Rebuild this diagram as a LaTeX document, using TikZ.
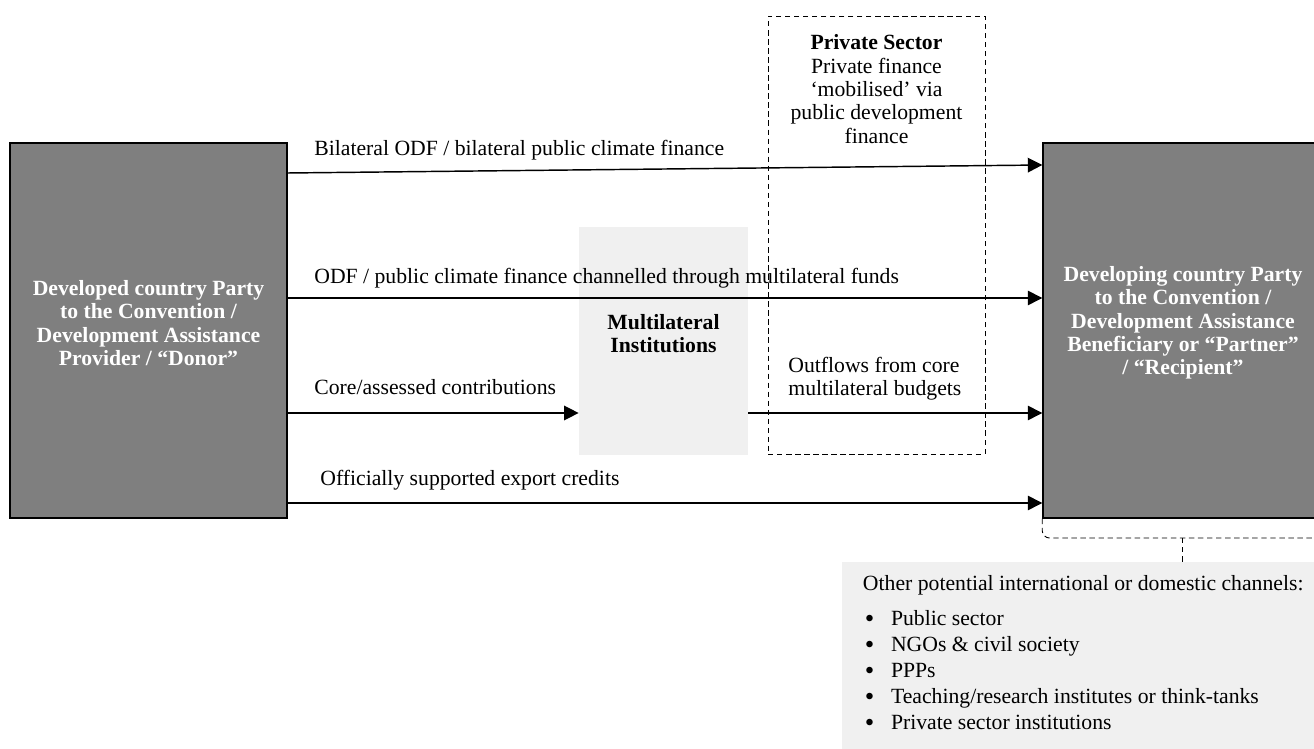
\documentclass[tikz,border=0pt]{standalone}
\usepackage{fontspec}
\setmainfont{Liberation Serif}
\usetikzlibrary{arrows.meta,fit}
\definecolor{boxgrey}{HTML}{7F7F7F}
\definecolor{panelgrey}{HTML}{F0F0F0}
\newcommand{\chanitem}{\hspace{1pt}\makebox[14.5pt][l]{\raisebox{-1.3pt}[0pt][0pt]{\fontsize{15}{14.4}\selectfont\textbullet}}}

\begin{document}
\begin{tikzpicture}[x=0.553pt, y=-0.553pt, >={Triangle[length=8pt,width=8pt]},
                    every node/.style={font=\fontsize{12}{12.9}\selectfont},
                    partybox/.style={draw=black, line width=0.8pt, fill=boxgrey, inner sep=0pt,
                                     text=white, align=center,
                                     font=\fontsize{12}{12.9}\selectfont\bfseries},
                    panel/.style={fill=panelgrey, inner sep=0pt},
                    flow/.style={line width=0.8pt, ->},
                    flowlabel/.style={anchor=base west, inner sep=0pt},
                    sectorline/.style={line width=0.5pt, dash pattern=on 3pt off 2pt}]

  %% 畫面範圍
  \useasboundingbox (0,0) rectangle (1314,749);
  \clip (0,0) rectangle (1314,749);

  %% 多邊機構 (淺灰底)
  \node[panel, fit={(579,227) (748,455)}, align=center,
        font=\fontsize{12}{12.9}\selectfont\bfseries] (multi) {Multilateral\\ Institutions};

  %% 捐助國與受援國
  \node[partybox, fit={(10,143) (287,518)}] (donor)
    {Developed country Party\\ to the Convention /\\ Development Assistance\\ Provider / “Donor”};
  \node[partybox, fit={(1043,143) (1323,518)}] (recipient)
    {Developing country Party\\ to the Convention /\\ Development Assistance\\ Beneficiary or “Partner”\\ / “Recipient”};

  %% 各資金流的高度
  \coordinate (lvlbil)    at (0,173);
  \coordinate (lvlbilend) at (0,165);
  \coordinate (lvlodf)    at (0,298);
  \coordinate (lvlcore)   at (0,413);
  \coordinate (lvlexp)    at (0,503);

  %% 資金流
  \draw[flow] (donor.east |- lvlbil)  -- (recipient.west |- lvlbilend);
  \draw[flow] (donor.east |- lvlodf)  -- (recipient.west |- lvlodf);
  \draw[flow] (donor.east |- lvlcore) -- (multi.west |- lvlcore);
  \draw[flow] (multi.east |- lvlcore) -- (recipient.west |- lvlcore);
  \draw[flow] (donor.east |- lvlexp)  -- (recipient.west |- lvlexp);

  %% 資金流標示
  \node[flowlabel] (billabel)  at (314,156) {Bilateral ODF / bilateral public climate finance};
  \node[flowlabel] (odflabel)  at (314,284) {ODF / public climate finance channelled through multilateral funds};
  \node[flowlabel] (corelabel) at (314,395) {Core/assessed contributions};
  \node[flowlabel] (explabel)  at (320,486) {Officially supported export credits};
  \node[anchor=north west, inner sep=0pt, align=left] (outlabel) at (788,357)
    {Outflows from core\\ multilateral budgets};

  %% 私部門 (虛線框)
  \node[sectorline, draw, inner sep=0pt, fit={(768,16) (985,454)}] (private) {};
  \node[anchor=north, inner sep=0pt, align=center] (privatetext) at ([yshift=-10.5pt]private.north)
    {\textbf{Private Sector}\\ Private finance\\ ‘mobilised’ via\\ public development\\ finance};

  %% 其他管道
  \node[panel, fit={(842,562) (1320,760)}] (others) {};
  \node[anchor=north west, inner sep=0pt, align=left,
        font=\fontsize{12}{14.4}\selectfont] (otherstext) at ([xshift=11.6pt, yshift=-7.2pt]others.north west)
    {Other potential international or domestic channels:\\[5pt]
     \chanitem Public sector\\
     \chanitem NGOs \& civil society\\
     \chanitem PPPs\\
     \chanitem Teaching/research institutes or think-tanks\\
     \chanitem Private sector institutions};

  %% 受援國到其他管道的虛線括號
  \coordinate (bracejoin) at (1182,538);
  \coordinate (braceend)  at (1320,538);
  \draw[sectorline, rounded corners=4pt] (recipient.south west) -- (recipient.south west |- bracejoin) -- (braceend);
  \draw[sectorline] (bracejoin) -- (bracejoin |- others.north);

\end{tikzpicture}
\end{document}
